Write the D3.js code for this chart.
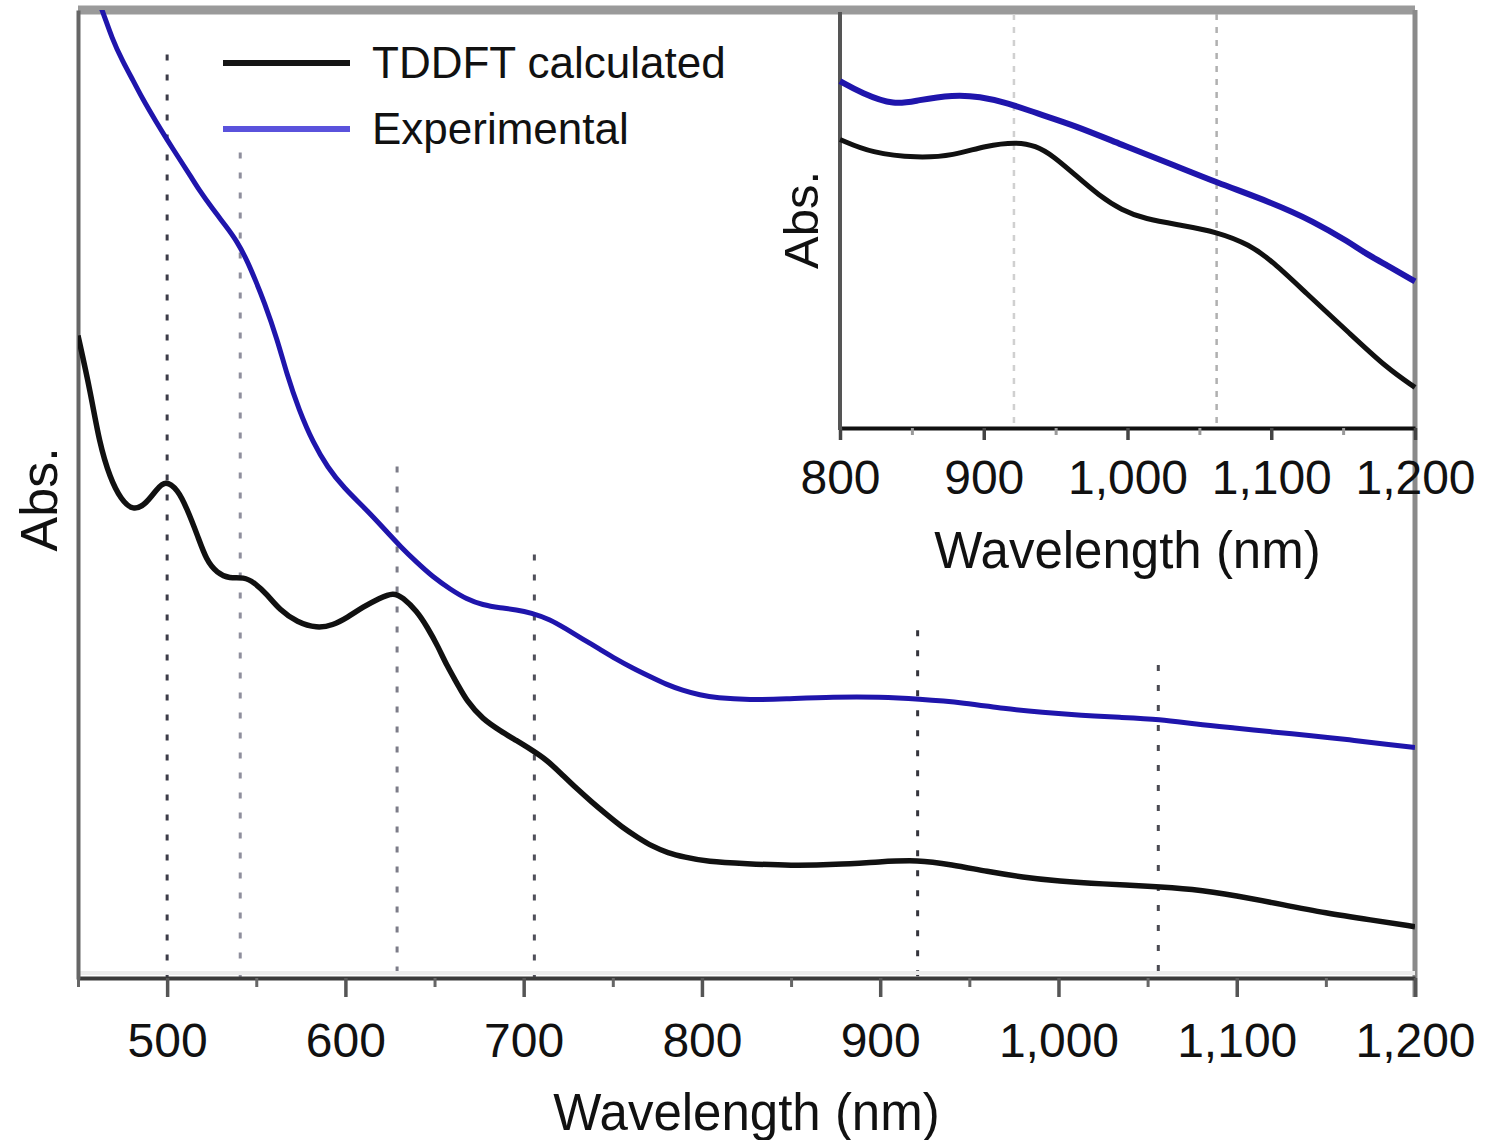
<!DOCTYPE html>
<html>
<head>
<meta charset="utf-8">
<script src="https://cdn.jsdelivr.net/npm/d3@7"></script>
<style>
    body { margin: 0; background: #fff; }
    svg { display: block; font-family: "Liberation Sans", Arial, sans-serif; }
</style>
</head>
<body>
<svg id="chart"></svg>
<script>
// main panel, TDDFT calculated spectrum (wavelength nm, abs. a.u.)
const tddftNm = [450, 457, 462, 468, 474, 481, 488, 494, 499, 506, 511, 517, 522, 528, 535, 543, 549, 556, 563, 573,
    584, 593, 601, 610, 619, 627, 632, 640, 646, 652, 657, 663, 668, 677, 687, 696, 704, 713, 721, 730,
    738, 747, 755, 764, 772, 781, 790, 803, 825, 850, 875, 900, 921, 940, 960, 980, 1000, 1025, 1050, 1075,
    1100, 1125, 1150, 1175, 1200];
const tddftAbs = [0.664, 0.606, 0.553, 0.517, 0.495, 0.483, 0.490, 0.505, 0.515, 0.505, 0.486, 0.458, 0.432, 0.419, 0.413, 0.415, 0.409, 0.397, 0.381, 0.368,
    0.362, 0.365, 0.373, 0.384, 0.393, 0.399, 0.394, 0.380, 0.363, 0.343, 0.323, 0.304, 0.287, 0.268, 0.256, 0.246, 0.237, 0.226, 0.212, 0.196,
    0.183, 0.169, 0.157, 0.146, 0.137, 0.130, 0.126, 0.121, 0.119, 0.117, 0.118, 0.121, 0.123, 0.118, 0.111, 0.105, 0.101, 0.098, 0.096, 0.093,
    0.086, 0.077, 0.068, 0.061, 0.054];

// main panel, experimental spectrum
const expNm = [455, 464, 469, 475, 481, 486, 494, 500, 507, 513, 518, 525, 533, 539, 545, 550, 554, 562, 567, 574,
    582, 590, 599, 612, 621, 631, 640, 649, 659, 668, 677, 687, 696, 704, 715, 724, 733, 743, 752, 761,
    771, 780, 789, 799, 808, 827, 846, 874, 900, 921, 948, 969, 991, 1013, 1034, 1057, 1077, 1099, 1120, 1142,
    1163, 1185, 1200];
const expAbs = [1.041, 0.998, 0.971, 0.947, 0.927, 0.909, 0.884, 0.866, 0.846, 0.829, 0.814, 0.796, 0.777, 0.762, 0.741, 0.719, 0.701, 0.659, 0.625, 0.587,
    0.553, 0.528, 0.507, 0.484, 0.466, 0.446, 0.430, 0.415, 0.402, 0.392, 0.386, 0.383, 0.381, 0.378, 0.371, 0.361, 0.351, 0.340, 0.330, 0.321,
    0.312, 0.304, 0.298, 0.293, 0.290, 0.288, 0.289, 0.291, 0.291, 0.289, 0.285, 0.279, 0.275, 0.272, 0.270, 0.268, 0.263, 0.259, 0.255, 0.251,
    0.247, 0.242, 0.239];

// dotted marker lines in the main panel (wavelength, top of line in abs. units)
const markerNm = [500, 541, 629, 706, 921, 1056];
const markerTop = [0.954, 0.853, 0.529, 0.438, 0.360, 0.324];

// inset, 800-1200 nm
const insetTddftNm = [800, 822, 854, 879, 901, 923, 936, 948, 964, 980, 996, 1012, 1037, 1062, 1085, 1101, 1123, 1155, 1180, 1200];
const insetTddftAbs = [0.697, 0.664, 0.652, 0.658, 0.682, 0.691, 0.682, 0.658, 0.610, 0.562, 0.526, 0.505, 0.490, 0.474, 0.443, 0.402, 0.330, 0.227, 0.146, 0.098];
const insetExpNm = [800, 815, 838, 854, 879, 897, 917, 936, 964, 996, 1028, 1062, 1100, 1129, 1155, 1164, 1183, 1200];
const insetExpAbs = [0.838, 0.809, 0.779, 0.792, 0.805, 0.801, 0.785, 0.761, 0.730, 0.684, 0.641, 0.593, 0.545, 0.500, 0.447, 0.425, 0.388, 0.354];
const insetMarkerNm = [921, 1062];

const mainTicks = [500, 600, 700, 800, 900, 1000, 1100, 1200];
const mainMinorTicks = [450, 550, 650, 750, 850, 950, 1050, 1150];
const insetTicks = [800, 900, 1000, 1100, 1200];
const insetMinorTicks = [850, 950, 1050, 1150];

const seriesNames = ["TDDFT calculated", "Experimental"];

class SpectrumChart {
    constructor(svg, width = 1491, height = 1140) {
        this.svg = d3.select(svg).attr("width", width).attr("height", height);
        this.black = "#111";
        this.blue = "#1f15ac";
    }

    initialize() {
        this.drawMain();
        this.drawInset();
        this.drawLegend();
    }

    lineGen(x, y) {
        return d3.line()
            .x(d => x(d[0]))
            .y(d => y(d[1]))
            .curve(d3.curveBasis);
    }

    styleAxis(g, color, width) {
        g.selectAll(".tick line").attr("stroke", color).attr("stroke-width", width);
        g.selectAll(".tick text")
            .attr("fill", "#111")
            .style("font-size", "48px")
            .style("font-family", "'Liberation Sans', Arial, sans-serif");
    }

    drawMain() {
        const x = d3.scaleLinear().domain([450, 1200]).range([78, 1415]);
        const y = d3.scaleLinear().domain([0, 1]).range([979, 10]);
        const g = this.svg.append("g");

        g.append("clipPath").attr("id", "clip-main")
            .append("rect")
            .attr("x", x(450)).attr("y", y(1))
            .attr("width", x(1200) - x(450)).attr("height", y(0) - y(1));

        // dotted guides
        const markerColors = ["#3c3c48", "#8e8e9c", "#7c7c88", "#50505a", "#34343c", "#4a4a52"];
        g.selectAll(".marker")
            .data(d3.zip(markerNm, markerTop))
            .join("line")
            .attr("class", "marker")
            .attr("x1", d => x(d[0])).attr("x2", d => x(d[0]))
            .attr("y1", d => y(d[1])).attr("y2", y(0))
            .attr("stroke", (d, i) => markerColors[i])
            .attr("stroke-width", 3)
            .attr("stroke-dasharray", "6,14");

        // frame
        g.append("line")
            .attr("x1", x(450)).attr("x2", x(1200))
            .attr("y1", y(1)).attr("y2", y(1))
            .attr("stroke", "#9a9a9a").attr("stroke-width", 9);
        g.append("line")
            .attr("x1", x(1200)).attr("x2", x(1200))
            .attr("y1", y(1)).attr("y2", y(0) + 18)
            .attr("stroke", "#8a8a8a").attr("stroke-width", 5);
        g.append("line")
            .attr("x1", x(450)).attr("x2", x(1200))
            .attr("y1", y(0) - 6).attr("y2", y(0) - 6)
            .attr("stroke", "#ececec").attr("stroke-width", 4);

        const minorAxis = g.append("g")
            .attr("transform", `translate(0,${y(0) - 1})`)
            .call(d3.axisBottom(x).tickValues(mainMinorTicks).tickSize(9).tickSizeOuter(0).tickFormat(""));
        minorAxis.select(".domain").attr("stroke", "#3a3a3a").attr("stroke-width", 4);
        this.styleAxis(minorAxis, "#666", 3);

        const majorAxis = g.append("g")
            .attr("transform", `translate(0,${y(0) - 1})`)
            .call(d3.axisBottom(x).tickValues(mainTicks).tickSize(19).tickPadding(26).tickFormat(d3.format(",")));
        majorAxis.select(".domain").remove();
        this.styleAxis(majorAxis, "#555", 3.5);

        const leftAxis = g.append("g")
            .attr("transform", `translate(${x(450)},0)`)
            .call(d3.axisLeft(y).tickValues([]).tickSizeOuter(0));
        leftAxis.select(".domain").attr("stroke", "#666").attr("stroke-width", 4);

        const line = this.lineGen(x, y);
        const curves = g.append("g").attr("clip-path", "url(#clip-main)");
        curves.append("path")
            .datum(d3.zip(expNm, expAbs))
            .attr("fill", "none").attr("stroke", this.blue).attr("stroke-width", 5)
            .attr("d", line);
        curves.append("path")
            .datum(d3.zip(tddftNm, tddftAbs))
            .attr("fill", "none").attr("stroke", this.black).attr("stroke-width", 5.5)
            .attr("d", line);

        g.append("text")
            .attr("x", (x(450) + x(1200)) / 2).attr("y", 1130)
            .attr("text-anchor", "middle")
            .style("font-size", "51px").attr("fill", "#111")
            .text("Wavelength (nm)");

        g.append("text")
            .attr("transform", `translate(57,${y(0.495)}) rotate(-90)`)
            .attr("text-anchor", "middle")
            .style("font-size", "52px").attr("fill", "#111")
            .text("Abs.");
    }

    drawInset() {
        const x = d3.scaleLinear().domain([800, 1200]).range([840, 1415]);
        const y = d3.scaleLinear().domain([0, 1]).range([428, 14]);
        const g = this.svg.append("g");

        g.append("rect")
            .attr("x", x(800)).attr("y", 15)
            .attr("width", x(1200) - x(800) - 3).attr("height", y(0) - 15)
            .attr("fill", "#fff");

        const insetColors = ["#d0d0d0", "#b0b0b0"];
        g.selectAll(".inset-marker")
            .data(insetMarkerNm)
            .join("line")
            .attr("class", "inset-marker")
            .attr("x1", d => x(d)).attr("x2", d => x(d))
            .attr("y1", 14).attr("y2", y(0))
            .attr("stroke", (d, i) => insetColors[i])
            .attr("stroke-width", 2.5)
            .attr("stroke-dasharray", "6,7");

        const minorAxis = g.append("g")
            .attr("transform", `translate(0,${y(0)})`)
            .call(d3.axisBottom(x).tickValues(insetMinorTicks).tickSize(7).tickSizeOuter(0).tickFormat(""));
        minorAxis.select(".domain").attr("stroke", "#111").attr("stroke-width", 4);
        this.styleAxis(minorAxis, "#999", 3);

        const majorAxis = g.append("g")
            .attr("transform", `translate(0,${y(0)})`)
            .call(d3.axisBottom(x).tickValues(insetTicks).tickSize(12).tickPadding(20).tickFormat(d3.format(",")));
        majorAxis.select(".domain").remove();
        this.styleAxis(majorAxis, "#444", 3.5);

        g.append("line")
            .attr("x1", x(800)).attr("x2", x(800))
            .attr("y1", 12).attr("y2", y(0) + 2)
            .attr("stroke", "#555").attr("stroke-width", 4);

        const line = this.lineGen(x, y);
        g.append("path")
            .datum(d3.zip(insetExpNm, insetExpAbs))
            .attr("fill", "none").attr("stroke", this.blue).attr("stroke-width", 6)
            .attr("d", line);
        g.append("path")
            .datum(d3.zip(insetTddftNm, insetTddftAbs))
            .attr("fill", "none").attr("stroke", this.black).attr("stroke-width", 5)
            .attr("d", line);

        g.append("text")
            .attr("x", (x(800) + x(1200)) / 2).attr("y", 568)
            .attr("text-anchor", "middle")
            .style("font-size", "51px").attr("fill", "#111")
            .text("Wavelength (nm)");

        g.append("text")
            .attr("transform", `translate(818,220) rotate(-90)`)
            .attr("text-anchor", "middle")
            .style("font-size", "49px").attr("fill", "#111")
            .text("Abs.");
    }

    drawLegend() {
        const legend = this.svg.append("g").attr("transform", "translate(223,63)");
        const colors = ["#151515", "#5a52dc"];
        const item = legend.selectAll(".legend-item")
            .data(seriesNames)
            .join("g")
            .attr("class", "legend-item")
            .attr("transform", (d, i) => `translate(0,${i * 66})`);

        item.append("line")
            .attr("x1", 0).attr("x2", 127)
            .attr("stroke", (d, i) => colors[i])
            .attr("stroke-width", 6);

        item.append("text")
            .attr("x", 149).attr("y", 15)
            .style("font-size", "44px").attr("fill", "#111")
            .text(d => d);
    }
}

const chart = new SpectrumChart(document.getElementById("chart"));
chart.initialize();
</script>
</body>
</html>
